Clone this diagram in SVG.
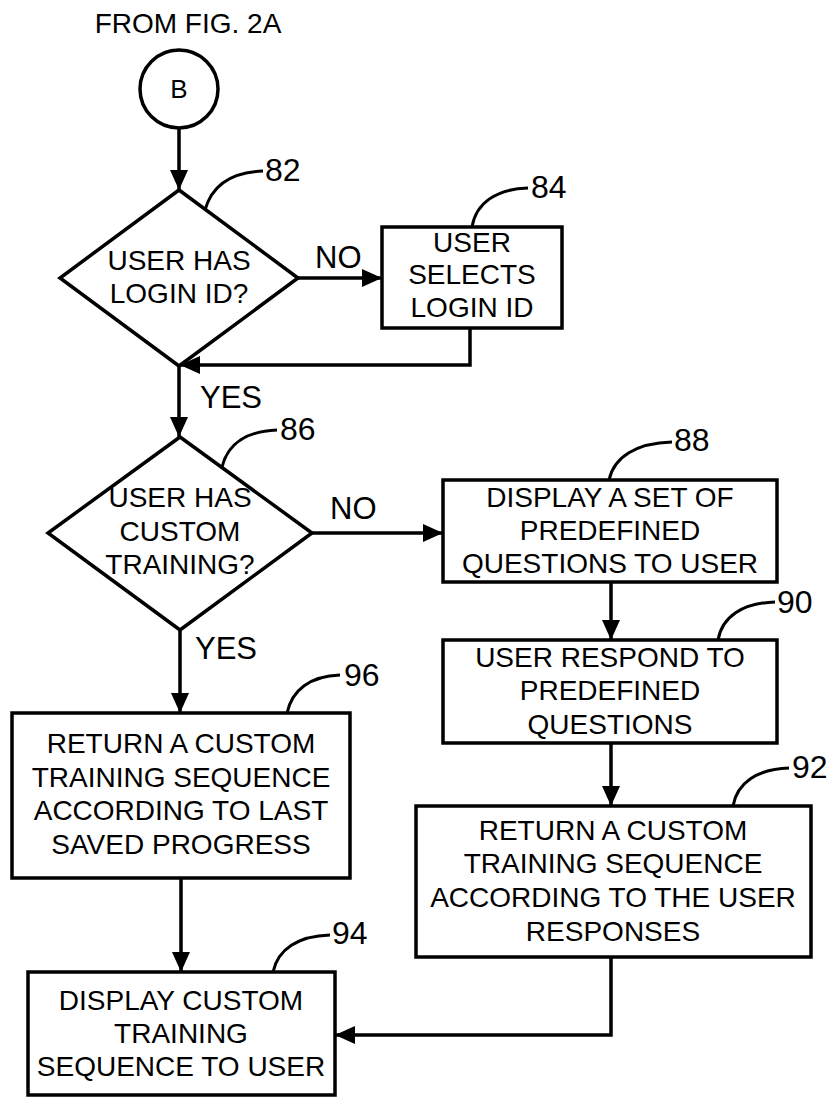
<svg xmlns="http://www.w3.org/2000/svg" width="832" height="1097" viewBox="0 0 832 1097">
<defs>
<marker id="ah" markerUnits="userSpaceOnUse" markerWidth="20" markerHeight="18" refX="20" refY="9" orient="auto" viewBox="0 0 20 18">
<path d="M0,0 L20,9 L0,18 z" fill="#000"/>
</marker>
<style>
.sh{fill:#fff;stroke:#000;stroke-width:3.5}
.ln{fill:none;stroke:#000;stroke-width:3.5}
.ld{fill:none;stroke:#000;stroke-width:3}
.t{font-family:"Liberation Sans",Arial,sans-serif;font-size:28px;fill:#000;text-anchor:middle}
.b{font-family:"Liberation Sans",Arial,sans-serif;font-size:26px;fill:#000;text-anchor:middle}
.n{font-family:"Liberation Sans",Arial,sans-serif;font-size:32px;fill:#000}
.l{font-family:"Liberation Sans",Arial,sans-serif;font-size:31px;fill:#000}
</style>
</defs>
<rect width="832" height="1097" fill="#fff"/>
<text class="t" x="188" y="33">FROM FIG. 2A</text>

<g id="connectors">
<line class="ln" x1="179" y1="128" x2="179" y2="190" marker-end="url(#ah)"/>
<line class="ln" x1="298" y1="278" x2="382" y2="278" marker-end="url(#ah)"/>
<polyline class="ln" points="470,328 470,365 180,365" marker-end="url(#ah)"/>
<line class="ln" x1="179" y1="366" x2="179" y2="437" marker-end="url(#ah)"/>
<line class="ln" x1="312" y1="533" x2="443" y2="533" marker-end="url(#ah)"/>
<line class="ln" x1="611" y1="582" x2="611" y2="640" marker-end="url(#ah)"/>
<line class="ln" x1="611" y1="743" x2="611" y2="806" marker-end="url(#ah)"/>
<line class="ln" x1="180" y1="630" x2="180" y2="713" marker-end="url(#ah)"/>
<line class="ln" x1="181" y1="878" x2="181" y2="972" marker-end="url(#ah)"/>
<polyline class="ln" points="611,957 611,1035 335,1035" marker-end="url(#ah)"/>
<text class="l" x="315" y="268">NO</text>
<text class="l" x="200" y="408">YES</text>
<text class="l" x="330" y="519">NO</text>
<text class="l" x="195" y="659">YES</text>
</g>

<g id="nodeB">
<circle class="sh" cx="179" cy="89" r="39"/>
<text class="b" x="179" y="98">B</text>
</g>

<g id="node82">
<polygon class="sh" points="179,190 298,278 179,366 60,278"/>
<text class="t" x="179" y="270">USER HAS</text>
<text class="t" x="179" y="303">LOGIN ID?</text>
<path class="ld" d="M205,210 C212,185 232,172 263,171"/>
<text class="n" x="265" y="181">82</text>
</g>

<g id="node84">
<rect class="sh" x="382" y="227" width="180" height="101"/>
<text class="t" x="472" y="252">USER</text>
<text class="t" x="472" y="284">SELECTS</text>
<text class="t" x="472" y="317">LOGIN ID</text>
<path class="ld" d="M472,227 C476,203 496,189 528,188"/>
<text class="n" x="531" y="198">84</text>
</g>

<g id="node86">
<polygon class="sh" points="180,437 312,533 180,630 48,533"/>
<text class="t" x="180" y="507">USER HAS</text>
<text class="t" x="180" y="541">CUSTOM</text>
<text class="t" x="180" y="574">TRAINING?</text>
<path class="ld" d="M222,467 C228,443 248,431 277,430"/>
<text class="n" x="280" y="440">86</text>
</g>

<g id="node88">
<rect class="sh" x="443" y="480" width="334" height="102"/>
<text class="t" x="610" y="507">DISPLAY A SET OF</text>
<text class="t" x="610" y="540">PREDEFINED</text>
<text class="t" x="610" y="573">QUESTIONS TO USER</text>
<path class="ld" d="M609,480 C614,457 636,443 672,442"/>
<text class="n" x="674" y="451">88</text>
</g>

<g id="node90">
<rect class="sh" x="443" y="640" width="334" height="103"/>
<text class="t" x="610" y="667">USER RESPOND TO</text>
<text class="t" x="610" y="700">PREDEFINED</text>
<text class="t" x="610" y="734">QUESTIONS</text>
<path class="ld" d="M718,640 C722,617 742,603 775,602"/>
<text class="n" x="777" y="613">90</text>
</g>

<g id="node92">
<rect class="sh" x="416" y="806" width="395" height="151"/>
<text class="t" x="613" y="840">RETURN A CUSTOM</text>
<text class="t" x="613" y="873">TRAINING SEQUENCE</text>
<text class="t" x="613" y="907">ACCORDING TO THE USER</text>
<text class="t" x="613" y="941">RESPONSES</text>
<path class="ld" d="M733,806 C737,783 757,769 789,768"/>
<text class="n" x="792" y="778">92</text>
</g>

<g id="node96">
<rect class="sh" x="12" y="713" width="338" height="165"/>
<text class="t" x="181" y="753">RETURN A CUSTOM</text>
<text class="t" x="181" y="787">TRAINING SEQUENCE</text>
<text class="t" x="181" y="820">ACCORDING TO LAST</text>
<text class="t" x="181" y="854">SAVED PROGRESS</text>
<path class="ld" d="M287,713 C292,690 310,676 340,675"/>
<text class="n" x="344" y="686">96</text>
</g>

<g id="node94">
<rect class="sh" x="28" y="972" width="307" height="123"/>
<text class="t" x="181" y="1010">DISPLAY CUSTOM</text>
<text class="t" x="181" y="1043">TRAINING</text>
<text class="t" x="181" y="1076">SEQUENCE TO USER</text>
<path class="ld" d="M273,972 C278,949 298,936 330,935"/>
<text class="n" x="332" y="944">94</text>
</g>
</svg>
